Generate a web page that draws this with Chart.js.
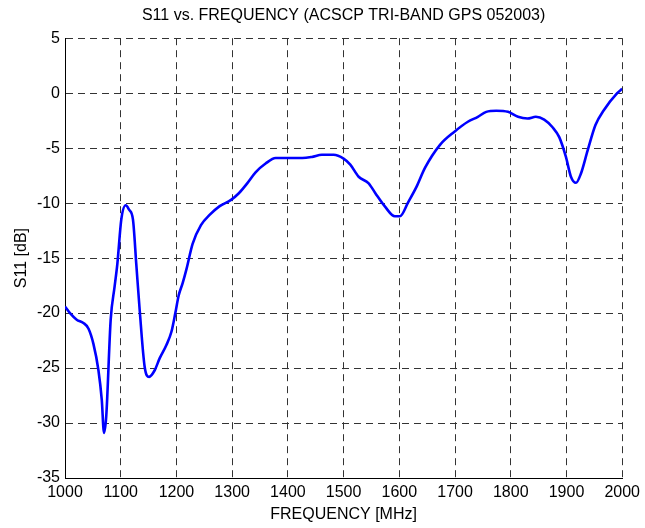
<!DOCTYPE html>
<html>
<head>
<meta charset="utf-8">
<script src="https://cdn.jsdelivr.net/npm/chart.js@4"></script>
<style>
  html, body { margin: 0; padding: 0; background: #fff; }
  #wrap { width: 645px; height: 528px; }
</style>
</head>
<body>
<div id="wrap"><canvas id="s11Chart" width="645" height="528"></canvas></div>
<script>
const freq = [1000, 1009, 1021, 1033, 1042, 1051, 1060, 1066, 1070, 1074, 1082, 1089, 1094,
    1101, 1109, 1115, 1122, 1128, 1134, 1143, 1151, 1161, 1170, 1182, 1191, 1198, 1204,
    1211, 1218, 1229, 1244, 1259, 1277, 1298, 1312, 1327, 1342, 1360, 1378, 1402, 1426,
    1443, 1461, 1482, 1500, 1512, 1527, 1545, 1557, 1574, 1592, 1601, 1616, 1631, 1646,
    1673, 1699, 1723, 1741, 1756, 1774, 1795, 1813, 1830, 1845, 1860, 1875, 1887, 1899,
    1908, 1917, 1926, 1938, 1952, 1967, 1991, 2000];
const s11 = [-19.4, -20.0, -20.6, -20.9, -21.4, -22.8, -25.2, -27.9, -30.9, -29.4, -20.6, -17.6, -15.5,
    -11.5, -10.2, -10.6, -11.5, -15.6, -19.7, -24.9, -25.8, -25.2, -24.1, -22.9, -21.7, -20.0, -18.4,
    -17.3, -16.0, -13.7, -12.0, -11.1, -10.3, -9.7, -9.1, -8.2, -7.2, -6.4, -5.9, -5.9, -5.9,
    -5.8, -5.6, -5.6, -5.95, -6.5, -7.6, -8.2, -9.1, -10.3, -11.2, -11.2, -9.9, -8.5, -6.8,
    -4.7, -3.5, -2.6, -2.15, -1.7, -1.6, -1.7, -2.15, -2.3, -2.15, -2.4, -3.1, -4.0, -5.8,
    -7.6, -8.15, -7.3, -5.2, -2.9, -1.55, 0.0, 0.4];

// Axis ranges / tick spacing
const xRange = [1000, 2000];
const xStep = 100;
const yRange = [-35, 5];
const yStep = 5;

const fontFamily = 'Arial, "Liberation Sans", Helvetica, sans-serif';
const gridColor = '#333';

const ctx = document.getElementById('s11Chart').getContext('2d');

const chart = new Chart(ctx, {
    type: 'line',
    data: {
        datasets: [{
            data: freq.map((f, i) => ({ x: f, y: s11[i] })),
            borderColor: '#0000ff',
            borderWidth: 2.6,
            pointRadius: 0,
            cubicInterpolationMode: 'monotone',
            fill: false
        }]
    },
    options: {
        responsive: false,
        animation: false,
        layout: { padding: { left: 0, right: 18, top: 0, bottom: 0 } },
        plugins: {
            legend: { display: false },
            tooltip: { enabled: false },
            title: {
                display: true,
                fullSize: false, // centre over the plot, not the canvas
                text: 'S11 vs. FREQUENCY (ACSCP TRI-BAND GPS 052003)',
                color: '#000',
                font: { family: fontFamily, size: 16, weight: 'normal' },
                padding: { top: 6, bottom: 13 }
            }
        },
        scales: {
            x: {
                type: 'linear',
                min: xRange[0],
                max: xRange[1],
                ticks: {
                    stepSize: xStep,
                    color: '#000',
                    padding: 5,
                    maxRotation: 0,
                    callback: (v) => String(v),
                    font: { family: fontFamily, size: 16 }
                },
                grid: { color: gridColor, lineWidth: 1, drawTicks: false },
                border: { display: true, color: '#000', width: 1, dash: [7, 5] },
                title: {
                    display: true,
                    text: 'FREQUENCY [MHz]',
                    color: '#000',
                    font: { family: fontFamily, size: 16 },
                    padding: { top: 0, bottom: 4 }
                },
                afterFit: (scale) => { scale.height = 50; }
            },
            y: {
                min: yRange[0],
                max: yRange[1],
                ticks: {
                    stepSize: yStep,
                    color: '#000',
                    padding: 5,
                    font: { family: fontFamily, size: 16 }
                },
                grid: { color: gridColor, lineWidth: 1, drawTicks: false },
                border: { display: true, color: '#000', width: 1, dash: [7, 5] },
                title: {
                    display: true,
                    text: 'S11 [dB]',
                    color: '#000',
                    font: { family: fontFamily, size: 16 },
                    padding: { top: 12, bottom: 0 }
                },
                afterFit: (scale) => { scale.width = 65; }
            }
        }
    }
});
</script>
</body>
</html>
